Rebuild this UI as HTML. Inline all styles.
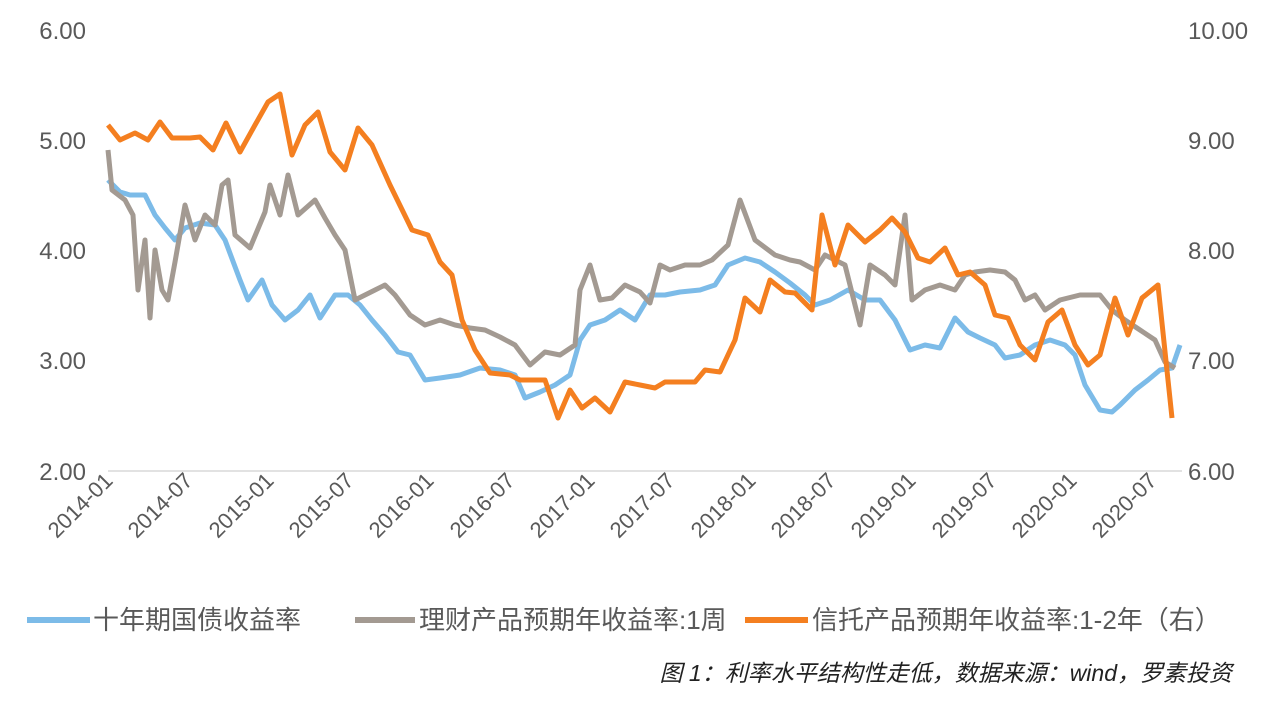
<!DOCTYPE html>
<html><head><meta charset="utf-8"><style>
body{margin:0;background:#fff;}
svg text{font-family:"Liberation Sans","Noto Sans CJK SC",sans-serif;fill:#595959;}
</style></head><body>
<svg width="1280" height="707" viewBox="0 0 1280 707" xmlns="http://www.w3.org/2000/svg">
<g font-size="24" text-anchor="end">
<text x="86" y="39">6.00</text><text x="86" y="149">5.00</text><text x="86" y="259">4.00</text><text x="86" y="369">3.00</text><text x="86" y="480">2.00</text>
</g>
<g font-size="24" text-anchor="start">
<text x="1188" y="39">10.00</text><text x="1188" y="149">9.00</text><text x="1188" y="259">8.00</text><text x="1188" y="369">7.00</text><text x="1188" y="480">6.00</text>
</g>
<line x1="108" y1="471" x2="1182" y2="471" stroke="#d9d9d9" stroke-width="1.5"/>
<g font-size="22" text-anchor="end">
<text transform="translate(114,482) rotate(-45)">2014-01</text>
<text transform="translate(194,482) rotate(-45)">2014-07</text>
<text transform="translate(275,482) rotate(-45)">2015-01</text>
<text transform="translate(355,482) rotate(-45)">2015-07</text>
<text transform="translate(435,482) rotate(-45)">2016-01</text>
<text transform="translate(516,482) rotate(-45)">2016-07</text>
<text transform="translate(596,482) rotate(-45)">2017-01</text>
<text transform="translate(676,482) rotate(-45)">2017-07</text>
<text transform="translate(757,482) rotate(-45)">2018-01</text>
<text transform="translate(837,482) rotate(-45)">2018-07</text>
<text transform="translate(917,482) rotate(-45)">2019-01</text>
<text transform="translate(998,482) rotate(-45)">2019-07</text>
<text transform="translate(1078,482) rotate(-45)">2020-01</text>
<text transform="translate(1158,482) rotate(-45)">2020-07</text>
</g>
<g fill="none" stroke-width="5" stroke-linejoin="round">
<polyline stroke="#7cbbe8" points="108,180 120,192 130,195 145,195 155,215 165,228 175,240 185,228 200,223 215,225 225,240 240,280 248,300 262,280 272,305 285,320 298,310 310,295 320,318 335,295 348,295 360,305 372,320 385,335 398,352 410,355 425,380 440,378 460,375 480,368 500,370 515,375 525,398 540,392 555,385 570,375 580,340 590,325 605,320 620,310 635,320 650,295 665,295 680,292 700,290 715,285 728,265 745,258 760,262 775,272 790,283 805,295 815,305 830,300 848,290 865,300 880,300 895,320 910,350 925,345 940,348 955,318 968,332 980,338 995,345 1005,358 1020,355 1035,345 1050,340 1065,345 1075,355 1085,385 1100,410 1112,412 1120,405 1135,390 1148,380 1160,370 1172,368 1180,345"/>
<polyline stroke="#a39a92" points="108,150 112,190 125,200 133,215 138,290 145,240 150,318 155,250 162,290 168,300 175,262 185,205 195,240 205,215 215,225 222,185 228,180 235,235 250,248 265,212 270,185 280,215 288,175 298,215 315,200 325,218 335,235 345,250 355,300 365,295 375,290 385,285 395,295 410,315 425,325 440,320 455,325 470,328 485,330 500,337 515,345 530,365 545,352 560,355 575,345 580,290 590,265 600,300 612,298 625,285 640,292 650,303 660,265 670,270 685,265 700,265 712,260 728,245 740,200 755,240 775,255 790,260 800,262 815,270 825,255 845,265 860,325 870,265 885,275 895,285 905,215 912,300 925,290 940,285 955,290 965,275 975,272 990,270 1005,272 1015,280 1025,300 1035,295 1045,310 1060,300 1080,295 1100,295 1112,310 1125,320 1140,330 1155,340 1165,362 1175,368"/>
<polyline stroke="#f47f20" points="108,125 120,140 135,133 148,140 160,122 172,138 190,138 200,137 213,150 226,123 240,152 255,125 268,102 280,94 292,155 305,125 318,112 330,152 345,170 358,128 372,145 390,185 412,230 428,235 440,262 452,275 462,320 475,350 490,373 510,375 520,380 545,380 558,418 570,390 582,408 595,398 610,412 625,382 640,385 655,388 665,382 695,382 705,370 720,372 735,340 745,298 760,312 770,280 785,292 795,293 812,310 822,215 835,265 848,225 865,242 880,230 892,218 905,232 918,258 930,262 945,248 958,275 970,272 985,285 995,315 1008,318 1020,345 1035,360 1048,322 1062,310 1075,345 1088,365 1100,355 1115,298 1128,335 1142,298 1158,285 1172,418"/>
</g>
<g stroke-width="6">
<line x1="27" y1="620" x2="90" y2="620" stroke="#7cbbe8"/>
<line x1="355" y1="620" x2="415" y2="620" stroke="#a39a92"/>
<line x1="745" y1="620" x2="808" y2="620" stroke="#f47f20"/>
</g>
<g font-size="26">
<text x="93" y="629">十年期国债收益率</text>
<text x="419" y="629">理财产品预期年收益率:1周</text>
<text x="812" y="629">信托产品预期年收益率:1-2年（右）</text>
</g>
<text x="1232" y="681" font-size="23" font-style="italic" text-anchor="end" style="fill:#222">图 1：利率水平结构性走低，数据来源：wind，罗素投资</text>
</svg>
</body></html>
